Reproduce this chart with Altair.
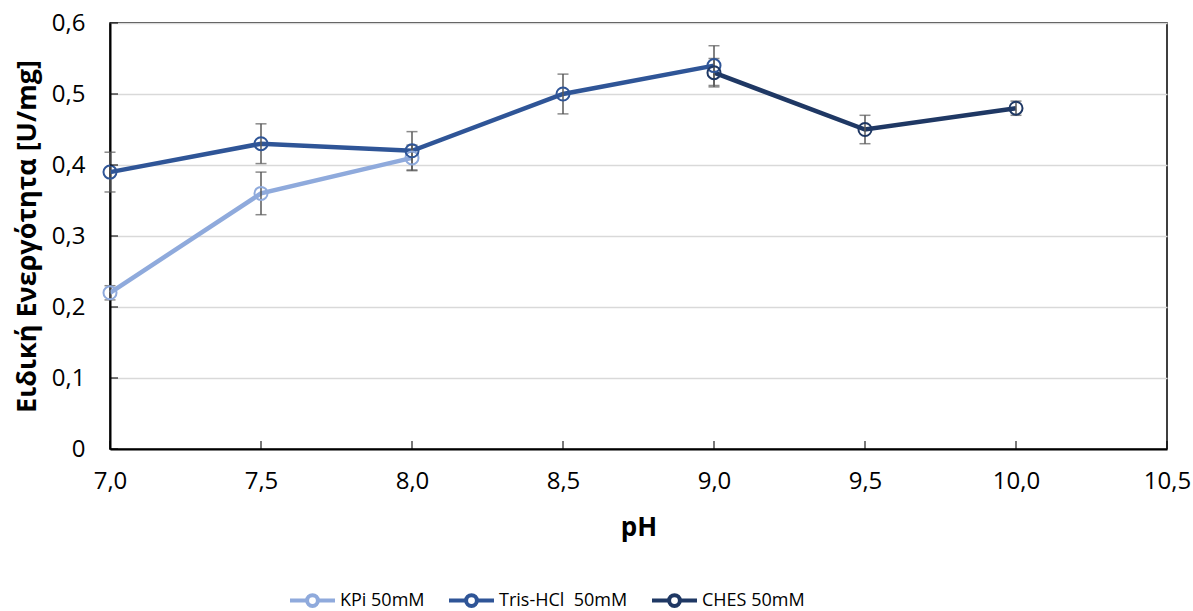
import altair as alt
import pandas as pd

# ---- data ----
series_names = ["KPi 50mM", "Tris-HCl\u00a0 50mM", "CHES 50mM"]
series_colors = ["#8FAADC", "#2F5597", "#1F3864"]

kpi_ph = [7.0, 7.5, 8.0]
kpi_val = [0.22, 0.36, 0.41]
kpi_err = [0.01, 0.03, 0.018]

tris_ph = [7.0, 7.5, 8.0, 8.5, 9.0]
tris_val = [0.39, 0.43, 0.42, 0.50, 0.54]
tris_err = [0.028, 0.028, 0.027, 0.028, 0.028]

ches_ph = [9.0, 9.5, 10.0]
ches_val = [0.53, 0.45, 0.48]
ches_err = [0.02, 0.02, 0.01]

x_ticks = [7.0, 7.5, 8.0, 8.5, 9.0, 9.5, 10.0, 10.5]
y_ticks = [0, 0.1, 0.2, 0.3, 0.4, 0.5, 0.6]

rows = []
for order, (name, phs, vals, errs) in enumerate([
    (series_names[0], kpi_ph, kpi_val, kpi_err),
    (series_names[1], tris_ph, tris_val, tris_err),
    (series_names[2], ches_ph, ches_val, ches_err),
]):
    for p, v, e in zip(phs, vals, errs):
        rows.append({"series": name, "order": order, "pH": p, "val": v,
                     "lo": v - e, "hi": v + e})
df = pd.DataFrame(rows)

FONT = "Open Sans"

x_scale = alt.Scale(domain=[7.0, 10.5], nice=False, zero=False)
y_scale = alt.Scale(domain=[0, 0.6], nice=False)
color_scale = alt.Scale(domain=series_names, range=series_colors)

x_axis = alt.Axis(values=x_ticks, title="pH", grid=False, ticks=False,
                  labelExpr="replace(format(datum.value, '.1f'), '.', ',')",
                  labelFlush=False, labelOverlap=False,
                  labelFontSize=24, labelPadding=20, labelColor="#000000",
                  titleFontSize=26, titleFontWeight="bold", titlePadding=21,
                  titleColor="#000000",
                  domainColor="#000000", domainWidth=2)
y_axis = alt.Axis(values=y_ticks, title="Ειδική Ενεργότητα [U/mg]",
                  grid=True, gridColor="#D9D9D9", gridWidth=1.5, ticks=False,
                  labelExpr="datum.value == 0 ? '0' : replace(format(datum.value, '.1f'), '.', ',')",
                  labelFlush=False, labelOverlap=False,
                  labelFontSize=24, labelPadding=25, labelColor="#000000",
                  titleFontSize=27, titleFontWeight="bold", titlePadding=10,
                  titleColor="#000000",
                  domainColor="#000000", domainWidth=2)

legend_symbol = ("M-1,0L-0.24,0M0.24,0L1,0"
                 "M-0.24,0A0.24,0.24,0,1,1,0.24,0A0.24,0.24,0,1,1,-0.24,0")

base = alt.Chart(df)

lines = base.mark_line(strokeWidth=4.5).encode(
    x=alt.X("pH:Q", scale=x_scale, axis=x_axis),
    y=alt.Y("val:Q", scale=y_scale, axis=y_axis),
    color=alt.Color("series:N", scale=color_scale,
                    legend=alt.Legend(title=None, orient="none",
                                      direction="horizontal",
                                      legendX=178, legendY=553,
                                      symbolType=legend_symbol,
                                      symbolSize=2025, symbolStrokeWidth=4,
                                      symbolFillColor="white",
                                      labelFontSize=18, labelFont=FONT,
                                      labelColor="#000000",
                                      labelOffset=3, columnPadding=16)),
    detail="series:N",
    order=alt.Order("pH:Q"),
)

err_rule = base.mark_rule(color="#595959", strokeWidth=1.5).encode(
    x="pH:Q", y="lo:Q", y2="hi:Q")
err_lo = base.mark_tick(color="#595959", thickness=1.5, size=11,
                        orient="horizontal").encode(x="pH:Q", y="lo:Q")
err_hi = base.mark_tick(color="#595959", thickness=1.5, size=11,
                        orient="horizontal").encode(x="pH:Q", y="hi:Q")

points = base.mark_point(shape="circle", filled=False, size=170,
                         strokeWidth=2, opacity=1).encode(
    x="pH:Q", y="val:Q",
    color=alt.Color("series:N", scale=color_scale, legend=None),
)

# small inward ticks on both axes
xt = pd.DataFrame({"t": x_ticks, "z": [0] * len(x_ticks)})
yt = pd.DataFrame({"t": y_ticks, "z": [7.0] * len(y_ticks)})
x_in = alt.Chart(xt).mark_tick(color="#000000", thickness=1.5, size=8,
                               orient="vertical", yOffset=-4).encode(
    x="t:Q", y="z:Q")
y_in = alt.Chart(yt).mark_tick(color="#000000", thickness=1.5, size=8,
                               orient="horizontal", xOffset=4).encode(
    x="z:Q", y="t:Q")

chart = alt.layer(lines, err_rule, err_lo, err_hi, points, x_in, y_in).properties(
    width=1057, height=426,
    padding={"left": 110, "top": 23, "right": 26, "bottom": 162},
    autosize=alt.AutoSizeParams(type="none"),
).configure_view(
    stroke="#000000", strokeWidth=1.5
).configure_axis(
    labelFont=FONT, titleFont=FONT
).configure_legend(
    labelFont=FONT
)

chart.save("out.html", embed_options={"renderer": "svg", "actions": False})
